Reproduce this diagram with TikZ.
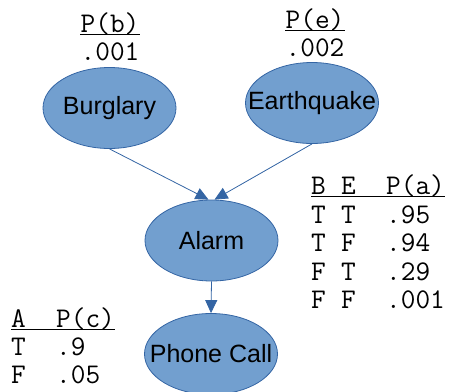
\documentclass[tikz,border=0pt]{standalone}
\usepackage{fontspec}
\setmainfont{Liberation Sans}
\usetikzlibrary{shapes.geometric,arrows.meta}
\definecolor{nodefill}{HTML}{729FCF}
\definecolor{nodeline}{HTML}{3465A4}
\newcommand{\fixw}[1]{\makebox[0pt][c]{#1}}
\begin{document}
\begin{tikzpicture}[x=1pt,y=-1pt,
  var/.style={ellipse, draw=nodeline, fill=nodefill, line width=0.8pt,
    minimum width=133pt, minimum height=81pt, inner sep=0pt,
    font=\fontsize{25}{30}\selectfont},
  cpt/.style={inner sep=0pt, anchor=base west, font=\ttfamily\fontsize{28.5}{32}\selectfont},
  cptc/.style={cpt, anchor=base},
  edge/.style={draw=nodeline, line width=0.8pt, -{Triangle[length=13pt,width=12pt]}},
  uline/.style={line width=1.3pt, black}]
\useasboundingbox (0,0) rectangle (449,391);
% variables
\node[var] (burg) at (109.5,108) {\fixw{Burglary}};
\node[var] (earth) at (312,103) {\fixw{Earthquake}};
\node[var] (alarm) at (211.5,240.5) {\fixw{Alarm}};
\node[var] (phone) at (211,354) {\fixw{Phone Call}};
% edges
\draw[edge] (burg.south) -- ([xshift=-3pt]alarm.north);
\draw[edge] (earth.south) -- ([xshift=3pt]alarm.north);
\draw[edge] (alarm.south) -- (phone.north);
% priors
\node[cptc] (pb) at (110,32) {P(b)};
\node[cptc] (pbv) at (110,60) {.001};
\draw[uline] ([yshift=-2.5pt]pb.base west) -- ([yshift=-2.5pt]pb.base east);
\node[cptc] (pe) at (315,28) {P(e)};
\node[cptc] (pev) at (315,56) {.002};
\draw[uline] ([yshift=-2.5pt]pe.base west) -- ([yshift=-2.5pt]pe.base east);
% CPT for alarm
\node[cpt] (ah1) at (311,194) {B};
\node[cpt] (ah2) at (341,194) {E};
\node[cpt] (ah3) at (386,194) {P(a)};
\draw[uline] ([yshift=-2.5pt]ah1.base west) -- ([yshift=-2.5pt]ah3.base east);
\node[cpt] (a11) at (311,223) {T};
\node[cpt] (a12) at (341,223) {T};
\node[cpt] (a13) at (386,223) {.95};
\node[cpt] (a21) at (311,251.5) {T};
\node[cpt] (a22) at (341,251.5) {F};
\node[cpt] (a23) at (386,251.5) {.94};
\node[cpt] (a31) at (311,280) {F};
\node[cpt] (a32) at (341,280) {T};
\node[cpt] (a33) at (386,280) {.29};
\node[cpt] (a41) at (311,308.5) {F};
\node[cpt] (a42) at (341,308.5) {F};
\node[cpt] (a43) at (386,308.5) {.001};
% CPT for phone call
\node[cpt] (ch1) at (11,327) {A};
\node[cpt] (ch2) at (56,327) {P(c)};
\draw[uline] ([yshift=-2.5pt]ch1.base west) -- ([yshift=-2.5pt]ch2.base east);
\node[cpt] (c11) at (11,355) {T};
\node[cpt] (c12) at (56,355) {.9};
\node[cpt] (c21) at (11,383) {F};
\node[cpt] (c22) at (56,383) {.05};
\end{tikzpicture}
\end{document}
